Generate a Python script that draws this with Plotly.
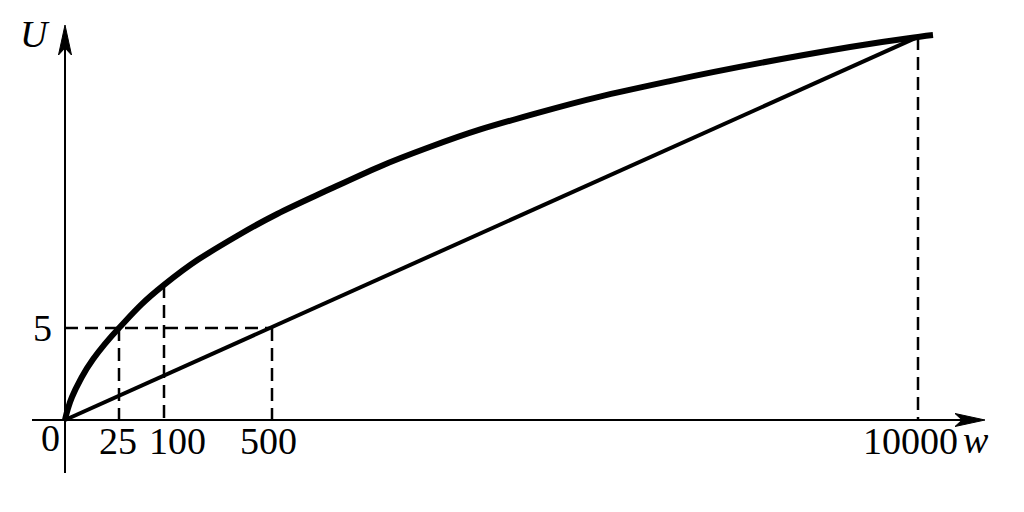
import plotly.graph_objects as go

# ---- data (schematic units: x = horizontal position, U = utility) ----
w_labels = ["0", "25", "100", "500", "10000"]
w_pos = [0, 54, 99, 207, 853]          # schematic horizontal positions of the w ticks
u_level = 5                             # labelled utility level
u_at_100 = 7.34                         # curve height above w=100
u_at_10000 = 20.82                      # common height at w=10000

curve_x = [0, 3, 7, 15, 28, 54, 99, 172, 265, 362, 472, 605, 785, 853, 868]
curve_u = [0, 0.63, 1.25, 2.15, 3.3, 5.00, 7.34, 10.00, 12.55, 14.78, 16.68,
           18.42, 20.27, 20.82, 20.92]

line_x = [0, 853]
line_u = [0, 20.82]

# ---- scales: 1 x-unit = 1 px ; 1 U-unit = 92/5 px ; page has an 8px body margin ----
PX_PER_U = 92 / 5
X_RANGE = [-57, 967]
Y_RANGE = [-100 / PX_PER_U, 412 / PX_PER_U]

FONT = "Liberation Serif, Times New Roman, serif"
BLACK = "#000000"

fig = go.Figure()

dash = "13px,7px"
# dashed guides
fig.add_trace(go.Scatter(x=[0, w_pos[3]], y=[u_level, u_level], mode="lines",
                         line=dict(color=BLACK, width=2.5, dash=dash), hoverinfo="skip"))
for xp, top in [(w_pos[1], u_level), (w_pos[2], u_at_100), (w_pos[3], u_level), (w_pos[4], u_at_10000)]:
    fig.add_trace(go.Scatter(x=[xp, xp], y=[top, 0], mode="lines",
                             line=dict(color=BLACK, width=2.5, dash=dash), hoverinfo="skip"))

# straight line
fig.add_trace(go.Scatter(x=line_x, y=line_u, mode="lines",
                         line=dict(color=BLACK, width=4), hoverinfo="skip"))
# concave utility curve
fig.add_trace(go.Scatter(x=curve_x, y=curve_u, mode="lines",
                         line=dict(color=BLACK, width=6, shape="spline", smoothing=1.3),
                         hoverinfo="skip"))

# ---- axes drawn as lines with barbed arrowheads ----
def u(px):
    return px / PX_PER_U

shapes = [
    dict(type="line", x0=-33, x1=912, y0=0, y1=0, line=dict(color=BLACK, width=2)),
    dict(type="line", x0=0, x1=0, y0=u(-53), y1=u(388), line=dict(color=BLACK, width=2)),
]
# x arrowhead (tip at x=920)
tx = 920
shapes.append(dict(type="path",
                   path=f"M{tx},0 L{tx-30},{u(6.5)} L{tx-23},0 L{tx-30},{u(-6.5)} Z",
                   fillcolor=BLACK, line=dict(color=BLACK, width=1)))
# y arrowhead (tip at 395 px above origin)
ty = u(395)
shapes.append(dict(type="path",
                   path=f"M0,{ty} L{-6.5},{ty-u(30)} L0,{ty-u(23)} L{6.5},{ty-u(30)} Z",
                   fillcolor=BLACK, line=dict(color=BLACK, width=1)))

annotations = []
label_x = [-15, 53, 112, 203, 845]
label_y = [u(-18), u(-21), u(-21), u(-21), u(-21)]
for lab, lx, ly in zip(w_labels, label_x, label_y):
    annotations.append(dict(x=lx, y=ly, text=lab, showarrow=False,
                            xanchor="center", yanchor="middle",
                            font=dict(family=FONT, size=38, color=BLACK)))
annotations.append(dict(x=-23, y=u_level, text="5", showarrow=False,
                        xanchor="center", yanchor="middle",
                        font=dict(family=FONT, size=38, color=BLACK)))
annotations.append(dict(x=-30, y=u(386), text="<i>U</i>", showarrow=False,
                        xanchor="center", yanchor="middle",
                        font=dict(family=FONT, size=38, color=BLACK)))
annotations.append(dict(x=911, y=u(-20), text="<i>w</i>", showarrow=False,
                        xanchor="center", yanchor="middle",
                        font=dict(family=FONT, size=38, color=BLACK)))

fig.update_layout(
    width=1024, height=512,
    margin=dict(l=0, r=0, t=0, b=0),
    paper_bgcolor="white", plot_bgcolor="white",
    showlegend=False,
    xaxis=dict(range=X_RANGE, visible=False, fixedrange=True),
    yaxis=dict(range=Y_RANGE, visible=False, fixedrange=True),
    shapes=shapes, annotations=annotations,
)

fig.write_html("out.html")
